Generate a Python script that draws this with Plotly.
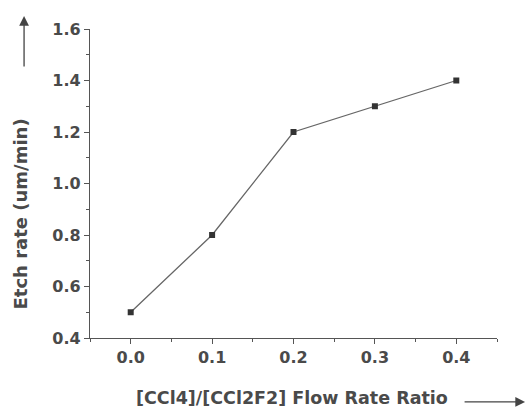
import plotly.graph_objects as go

ratio = [0.0, 0.1, 0.2, 0.3, 0.4]
etch_rate = [0.5, 0.8, 1.2, 1.3, 1.4]
x_ticks = [0.0, 0.1, 0.2, 0.3, 0.4]
x_tick_labels = ["0.0", "0.1", "0.2", "0.3", "0.4"]
y_ticks = [0.4, 0.6, 0.8, 1.0, 1.2, 1.4, 1.6]
y_tick_labels = ["0.4", "0.6", "0.8", "1.0", "1.2", "1.4", "1.6"]

axis_col = "#555555"
font_fam = "DejaVu Sans, sans-serif"

fig = go.Figure()
fig.add_trace(go.Scatter(
    x=ratio, y=etch_rate, mode="lines+markers",
    line=dict(color="#666666", width=1.3),
    marker=dict(symbol="square", size=6, color="#333333"),
    showlegend=False,
))

common = dict(showgrid=False, zeroline=False, showline=True, linecolor=axis_col,
              linewidth=1.3, ticks="outside", ticklen=5, tickwidth=1.2, tickcolor=axis_col,
              tickfont=dict(family=font_fam, size=16, color="#4a4a4a", weight="bold"))

fig.update_xaxes(range=[-0.05, 0.45], tickvals=x_ticks, ticktext=x_tick_labels,
                 minor=dict(dtick=0.05, ticks="outside", ticklen=3, tickcolor=axis_col),
                 **common)
fig.update_yaxes(range=[0.4, 1.6], tickvals=y_ticks, ticktext=y_tick_labels,
                 minor=dict(dtick=0.1, ticks="outside", ticklen=3, tickcolor=axis_col),
                 **common)

fig.update_layout(
    width=527, height=409,
    margin=dict(l=90, r=30, t=29, b=71),
    plot_bgcolor="white", paper_bgcolor="white",
    annotations=[
        dict(text="Etch rate (um/min)", xref="paper", yref="paper", x=-0.172, y=0.403,
             textangle=-90, showarrow=False, xanchor="center", yanchor="middle",
             font=dict(family=font_fam, size=18, color="#4a4a4a", weight="bold")),
        dict(text="", xref="paper", yref="paper", x=-0.162, y=1.042, ax=0, ay=52,
             showarrow=True, arrowhead=2, arrowsize=1.5, arrowwidth=1.3, arrowcolor="#444444"),
        dict(text="[CCl4]/[CCl2F2] Flow Rate Ratio", xref="paper", yref="paper", x=0.496, y=-0.194,
             showarrow=False, xanchor="center", yanchor="middle",
             font=dict(family=font_fam, size=17.5, color="#4a4a4a", weight="bold")),
        dict(text="", xref="paper", yref="paper", x=1.069, y=-0.207, ax=-62, ay=0,
             showarrow=True, arrowhead=2, arrowsize=1.5, arrowwidth=1.3, arrowcolor="#444444"),
    ],
)

fig.write_html("out.html")
